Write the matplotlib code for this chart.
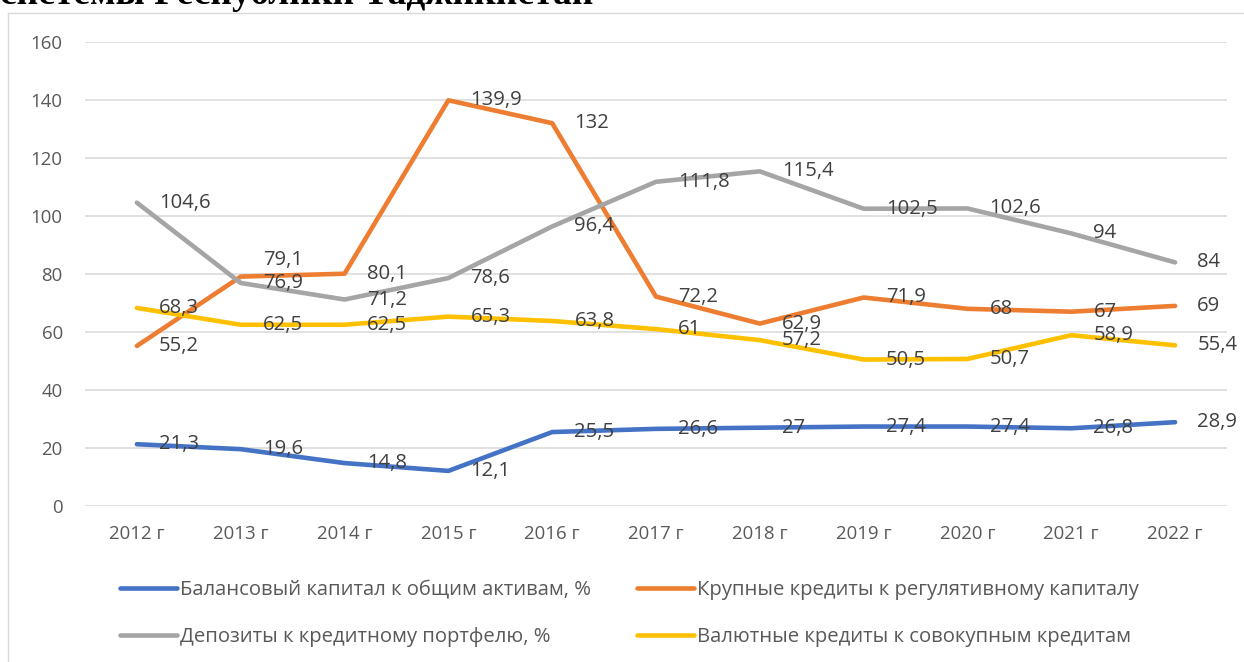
import matplotlib
matplotlib.use('Agg')
import matplotlib.pyplot as plt
from matplotlib.lines import Line2D

plt.rcParams['font.family'] = ['Open Sans', 'DejaVu Sans']

# years and the four indicators
years = ['2012 г', '2013 г', '2014 г', '2015 г', '2016 г', '2017 г',
         '2018 г', '2019 г', '2020 г', '2021 г', '2022 г']
capital_to_assets = [21.3, 19.6, 14.8, 12.1, 25.5, 26.6, 27, 27.4, 27.4, 26.8, 28.9]
large_loans = [55.2, 79.1, 80.1, 139.9, 132, 72.2, 62.9, 71.9, 68, 67, 69]
deposits_to_loans = [104.6, 76.9, 71.2, 78.6, 96.4, 111.8, 115.4, 102.5, 102.6, 94, 84]
fx_loans = [68.3, 62.5, 62.5, 65.3, 63.8, 61, 57.2, 50.5, 50.7, 58.9, 55.4]

names = ['Балансовый капитал к общим активам, %',
         'Крупные кредиты к регулятивному капиталу',
         'Депозиты к кредитному портфелю, %',
         'Валютные кредиты к совокупным кредитам']
colors = ['#4472C4', '#ED7D31', '#A5A5A5', '#FFC000']
series = [capital_to_assets, large_loans, deposits_to_loans, fx_loans]

# labels moved by hand so they don't sit on another one: (series, year) -> dy in points
label_nudge = {(1, 1): 12}

W, H = 1244, 662
fig = plt.figure(figsize=(W / 100, H / 100), dpi=100)
ax = fig.add_axes([85 / W, 1 - 506 / H, (1227 - 85) / W, (506 - 42) / H])

x = list(range(len(years)))
lines = []
for k, (vals, c, name) in enumerate(zip(series, colors, names)):
    ln, = ax.plot(x, vals, color=c, lw=3.3, solid_capstyle='round',
                  solid_joinstyle='round', label=name, zorder=3)
    lines.append(ln)
    for xi, v in zip(x, vals):
        txt = ('%g' % v).replace('.', ',')
        dy = label_nudge.get((k, xi), 0)
        ax.annotate(txt, (xi, v), xytext=(16, dy), textcoords='offset points',
                    ha='left', va='center', fontsize=14.6, color='#404040', zorder=4)

ax.set_xlim(-0.5, len(years) - 0.5)
ax.set_ylim(0, 160)
ax.set_yticks(range(0, 161, 20))
ax.set_xticks(x)
ax.set_xticklabels(years)
ax.grid(axis='y', color='#D9D9D9', lw=1.1, zorder=0)
ax.set_axisbelow(True)
for s in ax.spines.values():
    s.set_visible(False)
ax.tick_params(length=0, labelsize=13.4, labelcolor='#595959')
ax.tick_params(axis='y', pad=16)
ax.tick_params(axis='x', pad=14)

# legend in two rows under the plot (filled column by column)
order = [0, 2, 1, 3]
fig.legend(handles=[lines[i] for i in order], loc='upper left', ncol=2, frameon=False,
           bbox_to_anchor=(120 / W, 1 - 580 / H), borderpad=0, borderaxespad=0,
           handlelength=2.8, handletextpad=0.15, columnspacing=2.3,
           labelspacing=1.33, fontsize=14.6, labelcolor='#595959')

# chart frame, cut by the page edge
fig.add_artist(Line2D([8 / W, 1], [1 - 12.5 / H] * 2, color='#D9D9D9', lw=1))
fig.add_artist(Line2D([8 / W] * 2, [0, 1 - 12.5 / H], color='#D9D9D9', lw=1))

fig.text(0.0, 1 - 4.5 / H, 'системы Республики Таджикистан', ha='left', va='baseline',
         fontfamily='Liberation Serif', fontweight='bold', fontsize=27, color='black')

fig.savefig('out.png', dpi=100)
